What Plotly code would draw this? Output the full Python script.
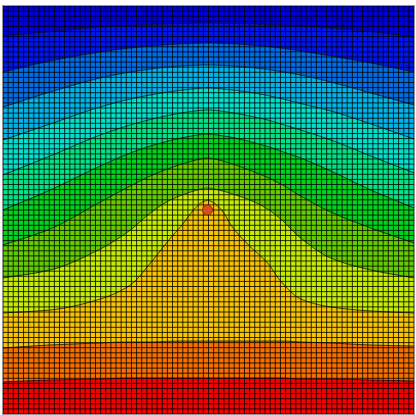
import numpy as np
import plotly.graph_objects as go

# Domain size (width x depth) and mesh resolution
domain_width = 410.0
domain_depth = 408.0
mesh_cells_x = 80
mesh_cells_y = 80

# Horizontal stations at which the isotherm depths were sampled
x_stations = [0, 47, 97, 127, 147, 167, 180, 189, 197, 204,
              211, 219, 229, 244, 264, 277, 297, 327, 367, 410]

# Depth (from the top surface) of each isotherm at the stations, coldest first
iso_1 = [30, 25.5, 21, 19.5, 18.5, 17.8, 17.4, 17.2, 17, 17, 17, 17.2, 17.4, 17.8, 18.5, 19, 20, 22, 25.5, 31]
iso_2 = [66, 55, 46, 42, 40, 38.5, 37.8, 37.4, 37.1, 37, 37.1, 37.4, 37.8, 38.8, 40.5, 42, 45, 50, 57, 66]
iso_3 = [101, 86, 72, 66, 63, 60.8, 59.9, 59.4, 59.1, 59, 59.1, 59.4, 60, 61.2, 63.5, 65.5, 69, 76, 87, 99]
iso_4 = [134, 118, 101, 93, 89, 85.6, 84, 83, 82.3, 82, 82.3, 83, 84, 86, 89.5, 92.5, 97.5, 105, 118, 133]
iso_5 = [169, 150, 129, 119, 113.5, 109, 106.6, 105.3, 104.4, 104, 104.4, 105.3, 106.8, 109.6, 114, 118, 124, 134, 150, 167]
iso_6 = [204, 184, 160, 147, 140, 134.5, 131.5, 129.8, 128.6, 128, 128.6, 129.8, 131.5, 135, 140.5, 145, 152, 165, 184, 202]
iso_7 = [239, 223, 196, 180, 170, 162, 157.5, 155, 153, 152, 153, 155, 158, 163.5, 171.5, 178, 190, 206, 222, 237]
iso_8 = [272, 264, 243, 224, 207, 194, 188.5, 185.5, 183.3, 182.3, 183.3, 185, 188, 193, 203, 213, 232, 252, 264, 272]
iso_9 = [307, 304, 293, 279, 257, 232, 217, 205, 197, 194, 197, 205, 221, 238, 257, 275, 293, 301, 305, 307]
iso_10 = [342, 339, 337, 336, 336, 335.5, 335, 335, 335, 335, 335, 335, 335, 335, 335, 335, 336, 337, 339, 340]
iso_11 = [376, 374, 373, 372, 372, 372, 372, 372, 372, 372, 372, 372, 372, 372, 372, 372, 373, 373, 374, 375]

# Point heat source
source_x = [204]
source_depth = [204]

# Fill colour of each band, from the cold top to the hot bottom
band_colors = ['rgb(0,0,222)', 'rgb(0,22,240)', 'rgb(0,108,230)', 'rgb(0,180,232)',
               'rgb(0,224,205)', 'rgb(0,228,135)', 'rgb(0,212,30)', 'rgb(100,205,0)',
               'rgb(198,236,0)', 'rgb(246,196,0)', 'rgb(246,112,0)', 'rgb(246,0,0)']

isotherms = [iso_1, iso_2, iso_3, iso_4, iso_5, iso_6, iso_7, iso_8, iso_9, iso_10, iso_11]
n_levels = len(isotherms)


def pchip(xk, yk, xq):
    """Shape-preserving piecewise cubic (Fritsch-Carlson) evaluation."""
    xk = np.asarray(xk, float)
    yk = np.asarray(yk, float)
    h = np.diff(xk)
    delta = np.diff(yk) / h
    m = np.zeros_like(yk)
    for k in range(1, len(xk) - 1):
        if delta[k - 1] * delta[k] > 0:
            w1 = 2 * h[k] + h[k - 1]
            w2 = h[k] + 2 * h[k - 1]
            m[k] = (w1 + w2) / (w1 / delta[k - 1] + w2 / delta[k])
    m[0] = delta[0]
    m[-1] = delta[-1]
    xq = np.asarray(xq, float)
    idx = np.clip(np.searchsorted(xk, xq) - 1, 0, len(xk) - 2)
    t = (xq - xk[idx]) / h[idx]
    h00 = 2 * t**3 - 3 * t**2 + 1
    h10 = t**3 - 2 * t**2 + t
    h01 = -2 * t**3 + 3 * t**2
    h11 = t**3 - t**2
    return (h00 * yk[idx] + h10 * h[idx] * m[idx]
            + h01 * yk[idx + 1] + h11 * h[idx] * m[idx + 1])


# Build the nodal field: level index varies linearly between neighbouring isotherms
xs = np.linspace(0, domain_width, 411)
ds = np.linspace(0, domain_depth, 409)
iso_curves = np.array([pchip(x_stations, iso, xs) for iso in isotherms])
levels = np.arange(n_levels + 2, dtype=float)
z = np.zeros((ds.size, xs.size))
for i in range(xs.size):
    col_depths = np.concatenate([[0.0], iso_curves[:, i], [domain_depth]])
    z[:, i] = np.interp(ds, col_depths, levels)

# Stepped colour scale, one flat colour per band
nb = len(band_colors)
colorscale = []
for k, c in enumerate(band_colors):
    colorscale.append([k / nb, c])
    colorscale.append([(k + 1) / nb, c])

fig = go.Figure()
fig.add_trace(go.Contour(
    x=xs, y=ds, z=z,
    zmin=0, zmax=nb, zauto=False,
    colorscale=colorscale, showscale=False,
    contours=dict(start=1, end=n_levels, size=1, coloring='fill'),
    line=dict(color='rgba(20,20,20,0.85)', width=1, smoothing=1.0),
    hoverinfo='skip',
))

# Finite-element mesh overlay
gx = np.linspace(0, domain_width, mesh_cells_x + 1)
gy = np.linspace(0, domain_depth, mesh_cells_y + 1)
mx, my = [], []
for v in gx:
    mx += [v, v, None]
    my += [0, domain_depth, None]
for h in gy:
    mx += [0, domain_width, None]
    my += [h, h, None]
fig.add_trace(go.Scatter(x=mx, y=my, mode='lines',
                         line=dict(color='rgba(0,0,0,0.8)', width=1),
                         hoverinfo='skip', showlegend=False))

fig.add_trace(go.Scatter(x=source_x, y=source_depth, mode='markers',
                         marker=dict(size=10, color='rgb(215,80,25)',
                                     line=dict(color='rgb(150,40,20)', width=1)),
                         hoverinfo='skip', showlegend=False))

fig.update_xaxes(range=[0, domain_width], visible=True, showgrid=False, zeroline=False,
                 showticklabels=False, ticks='', showline=True, mirror=True,
                 linecolor='rgb(150,150,150)', linewidth=1)
fig.update_yaxes(range=[domain_depth, 0], visible=True, showgrid=False, zeroline=False,
                 showticklabels=False, ticks='', showline=True, mirror=True,
                 linecolor='rgb(150,150,150)', linewidth=1)
fig.update_layout(width=416, height=415, margin=dict(l=3, r=2, t=6, b=1),
                  paper_bgcolor='white', plot_bgcolor='white', showlegend=False)

fig.write_html("out.html")
